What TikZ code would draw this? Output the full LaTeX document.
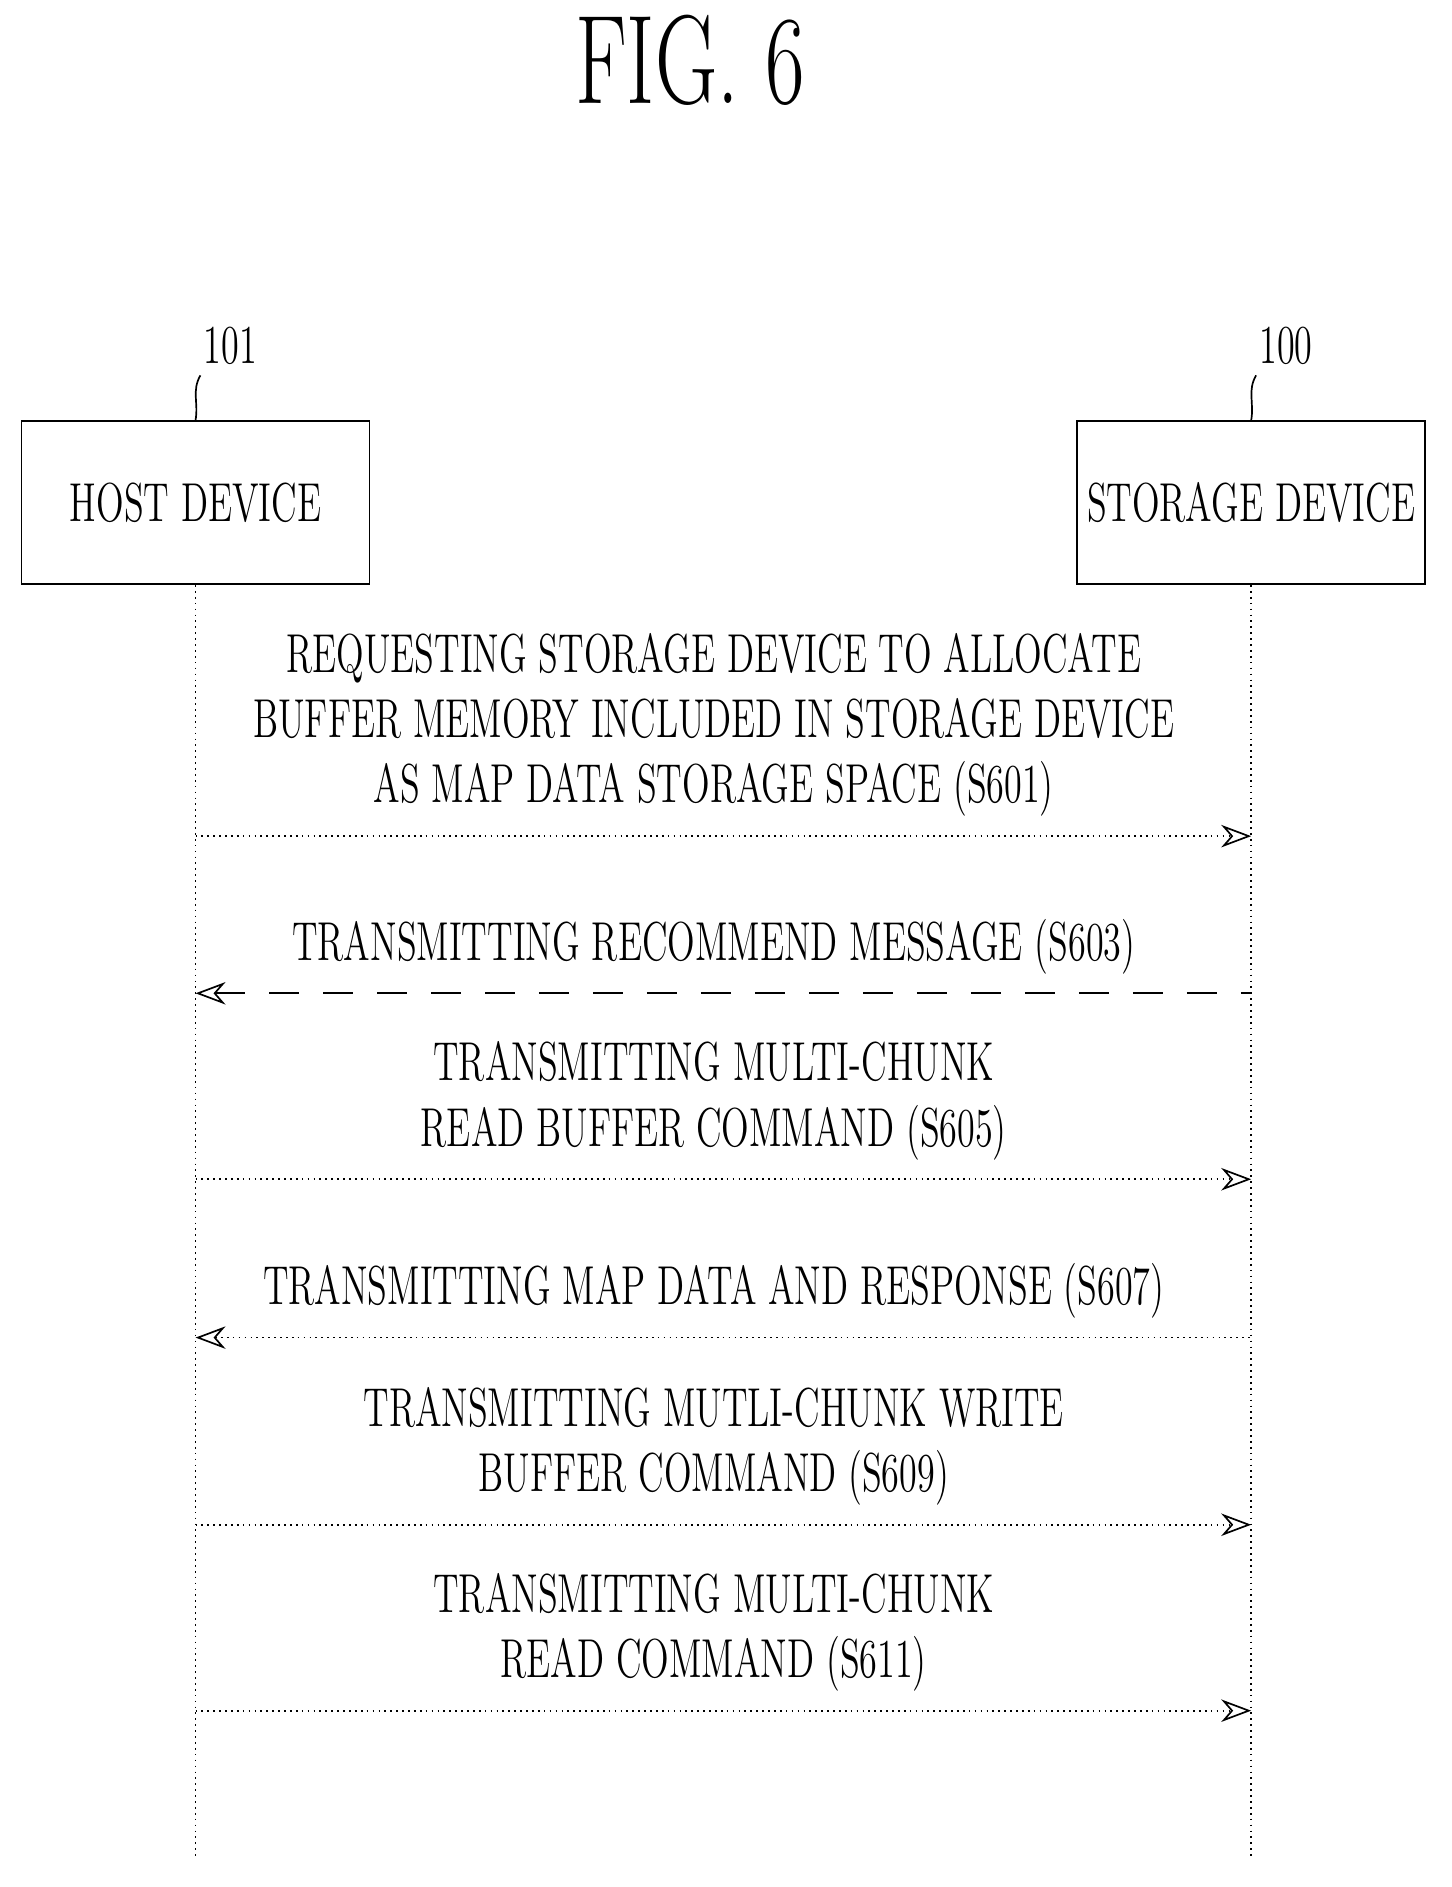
\documentclass[tikz,border=0pt]{standalone}
\usetikzlibrary{positioning,arrows.meta}
\tikzset{
  devbox/.style={draw,thin,minimum width=2.9cm,minimum height=1.36cm,inner sep=0pt},
  msg/.style={font=\fontsize{13}{15.5}\selectfont,align=center,xscale=0.66,transform shape,anchor=south,inner sep=1pt},
  life/.style={thin,densely dotted},
  fwd/.style={thin,densely dotted,-{Stealth[length=2.5mm,open]}},
  bwd/.style={thin,densely dotted,{Stealth[length=2.5mm,open]}-},
  bwddash/.style={thin,dash pattern=on 2.5mm off 2mm,{Stealth[length=2.5mm,open]}-}
}
\begin{document}
\begin{tikzpicture}
  \useasboundingbox (0,0) rectangle (12.10,-15.73);
  \node[font=\fontsize{30}{32}\selectfont,xscale=0.68,transform shape] (title) at (5.75,-0.50) {FIG. 6};
  % devices
  \node[devbox] (host) at (1.63,-4.19) {};
  \node[devbox] (stor) at (10.43,-4.19) {};
  \node[msg,anchor=center] (hostlbl) at (host) {HOST DEVICE};
  \node[msg,anchor=center] (storlbl) at (stor) {STORAGE DEVICE};
  \node[msg,anchor=center] (hostref) at (1.92,-2.88) {101};
  \node[msg,anchor=center] (storref) at (10.72,-2.88) {100};
  \draw[thin] (hostref.south west) ++(0.0,-0.05) to[out=-120,in=80] (host.north);
  \draw[thin] (storref.south west) ++(0.0,-0.05) to[out=-120,in=80] (stor.north);
  % lifelines
  \coordinate (h1) at (1.63,-15.50);
  \coordinate (s1) at (10.43,-15.50);
  \draw[life] (host.south) -- (h1);
  \draw[life] (stor.south) -- (s1);
  % messages
  \foreach \y/\sty/\txt in {
      6.97/fwd/{REQUESTING STORAGE DEVICE TO ALLOCATE\\BUFFER MEMORY INCLUDED IN STORAGE DEVICE\\AS MAP DATA STORAGE SPACE (S601)},
      8.28/bwddash/{TRANSMITTING RECOMMEND MESSAGE (S603)},
      9.83/fwd/{TRANSMITTING MULTI-CHUNK\\READ BUFFER COMMAND (S605)},
      11.15/bwd/{TRANSMITTING MAP DATA AND RESPONSE (S607)},
      12.71/fwd/{TRANSMITTING MUTLI-CHUNK WRITE\\BUFFER COMMAND (S609)},
      14.26/fwd/{TRANSMITTING MULTI-CHUNK\\READ COMMAND (S611)}} {
    \coordinate (a) at (1.63,-\y); \coordinate (b) at (10.43,-\y);
    \draw[\sty] (a) -- (b);
    \node[msg] at (5.95,-\y+0.12) {\txt};
  }
\end{tikzpicture}
\end{document}
